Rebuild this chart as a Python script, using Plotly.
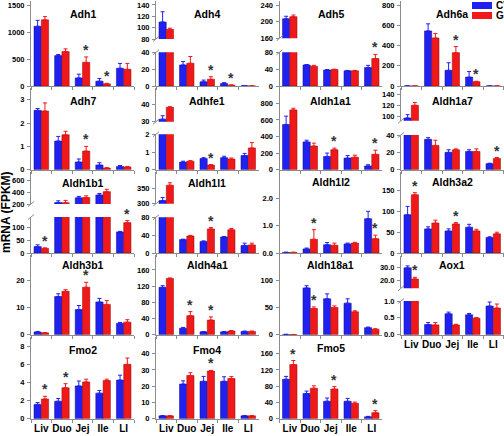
import plotly.graph_objects as go

W, H = 504, 436
CATS = ['Liv', 'Duo', 'Jej', 'Ile', 'LI']
SERIES = ['CV', 'GF']

# ---------------- data (FPKM) ----------------
ADH1_CV = [1110, 565, 150, 90, 330]
ADH1_CV_ERR = [110, 20, 70, 50, 90]
ADH1_GF = [1230, 640, 440, 40, 310]
ADH1_GF_ERR = [60, 50, 100, 10, 110]
ADH1_SIG = ['Jej', 'Ile']

ADH4_CV = [110, 25, 5, 3, 0.2]
ADH4_CV_ERR = [18, 4, 2, 1, 0.1]
ADH4_GF = [97, 27, 8, 1, 0.1]
ADH4_GF_ERR = [2, 8, 3, 0.3, 0.1]
ADH4_SIG = ['Jej', 'Ile']

ADH5_CV = [207, 50, 38, 36, 44]
ADH5_CV_ERR = [6, 1, 1, 1, 5]
ADH5_GF = [212, 47, 39, 36, 65]
ADH5_GF_ERR = [4, 2, 1, 1, 10]
ADH5_SIG = ['LI']

ADH6A_CV = [0.5, 545, 155, 88, 0.5]
ADH6A_CV_ERR = [0, 70, 75, 55, 0]
ADH6A_GF = [0.5, 475, 330, 42, 0.5]
ADH6A_GF_ERR = [0, 45, 60, 5, 0]
ADH6A_SIG = ['Jej', 'Ile']

ADH7_CV = [2.55, 1.23, 0.33, 0.2, 0.14]
ADH7_CV_ERR = [0.08, 0.2, 0.13, 0.1, 0.04]
ADH7_GF = [2.52, 1.5, 0.8, 0.07, 0.12]
ADH7_GF_ERR = [0.35, 0.15, 0.2, 0.02, 0.02]
ADH7_SIG = ['Jej']

ADHFE1_CV = [31.5, 0.43, 0.63, 0.68, 0.8]
ADHFE1_CV_ERR = [2, 0.05, 0.05, 0.08, 0.12]
ADHFE1_GF = [38.5, 0.48, 0.26, 0.6, 1.23]
ADHFE1_GF_ERR = [0.3, 0.03, 0.03, 0.06, 0.3]
ADHFE1_SIG = ['Jej']

ALDH1A1_CV = [545, 335, 160, 140, 45]
ALDH1A1_CV_ERR = [100, 20, 40, 30, 15]
ALDH1A1_GF = [720, 285, 240, 150, 185]
ALDH1A1_GF_ERR = [20, 35, 20, 25, 50]
ALDH1A1_SIG = ['Jej', 'LI']

ALDH1A7_CV = [97, 35, 20, 21, 7]
ALDH1A7_CV_ERR = [6, 2, 3, 2, 0.5]
ALDH1A7_GF = [120, 28, 23, 21, 13]
ALDH1A7_GF_ERR = [5, 6, 1, 3, 1]
ALDH1A7_SIG = ['LI']

ALDH1B1_CV = [25, 225, 305, 355, 82]
ALDH1B1_CV_ERR = [7, 30, 25, 25, 2]
ALDH1B1_GF = [18, 222, 310, 412, 118]
ALDH1B1_GF_ERR = [2, 40, 30, 40, 8]
ALDH1B1_SIG = ['Liv', 'LI']

ALDH1L1_CV = [310, 30, 26, 36, 17]
ALDH1L1_CV_ERR = [10, 1, 1, 1, 5]
ALDH1L1_GF = [360, 38, 54, 52, 18]
ALDH1L1_GF_ERR = [8, 1.5, 3, 3, 4]
ALDH1L1_SIG = ['Jej']

ALDH1L2_CV = [0.02, 0.15, 0.3, 0.33, 1.25]
ALDH1L2_CV_ERR = [0.01, 0.03, 0.08, 0.03, 0.27]
ALDH1L2_GF = [0.02, 0.5, 0.28, 0.36, 0.52]
ALDH1L2_GF_ERR = [0.01, 0.35, 0.08, 0.03, 0.13]
ALDH1L2_SIG = ['Duo', 'LI']

ALDH3A2_CV = [92, 58, 53, 62, 37]
ALDH3A2_CV_ERR = [20, 5, 5, 7, 2]
ALDH3A2_GF = [140, 72, 70, 53, 46]
ALDH3A2_GF_ERR = [5, 7, 3, 4, 4]
ALDH3A2_SIG = ['Liv', 'Jej']

ALDH3B1_CV = [1.0, 14.0, 9.2, 12.0, 4.2]
ALDH3B1_CV_ERR = [0.2, 1.0, 1.5, 1.3, 0.3]
ALDH3B1_GF = [0.7, 15.9, 17.4, 11.1, 4.6]
ALDH3B1_GF_ERR = [0.1, 0.6, 1.8, 1.4, 0.9]
ALDH3B1_SIG = ['Jej']

ALDH4A1_CV = [117, 16, 7, 7, 8]
ALDH4A1_CV_ERR = [4, 2, 1, 1, 1]
ALDH4A1_GF = [139, 47, 36, 9, 8]
ALDH4A1_GF_ERR = [1, 10, 8, 1.5, 1]
ALDH4A1_SIG = ['Duo', 'Jej']

ALDH18A1_CV = [0.5, 86, 66, 58, 13]
ALDH18A1_CV_ERR = [0.2, 4, 9, 8, 1]
ALDH18A1_GF = [0.3, 48, 50, 42, 10]
ALDH18A1_GF_ERR = [0.1, 3, 3, 2, 1]
ALDH18A1_SIG = ['Duo']

AOX1_CV = [29.5, 0.3, 0.62, 0.59, 0.85]
AOX1_CV_ERR = [1.5, 0.06, 0.05, 0.04, 0.12]
AOX1_GF = [21, 0.29, 0.29, 0.49, 0.79]
AOX1_GF_ERR = [1.2, 0.07, 0.02, 0.02, 0.12]
AOX1_SIG = ['Liv']

FMO2_CV = [1.6, 1.95, 3.65, 2.85, 4.3]
FMO2_CV_ERR = [0.2, 0.3, 0.55, 0.3, 0.55]
FMO2_GF = [2.2, 3.45, 4.1, 4.25, 6.05]
FMO2_GF_ERR = [0.3, 0.45, 0.3, 0.15, 0.7]
FMO2_SIG = ['Liv', 'Duo']

FMO4_CV = [1.8, 21.3, 23.0, 23.0, 1.8]
FMO4_CV_ERR = [0.2, 2.0, 3.0, 2.8, 0.2]
FMO4_GF = [1.8, 26.6, 29.3, 24.7, 1.8]
FMO4_GF_ERR = [0.1, 1.7, 0.4, 1.2, 0.1]
FMO4_SIG = ['Jej']

FMO5_CV = [97, 62, 43, 43, 5]
FMO5_CV_ERR = [7, 6, 8, 7, 1]
FMO5_GF = [133, 75, 73, 38, 15]
FMO5_GF_ERR = [10, 6, 6, 3, 5]
FMO5_SIG = ['Liv', 'Jej', 'LI']

# ---------------- layout (pixel geometry) ----------------
CV_COLOR = '#2020f0'
GF_COLOR = '#f01818'
CV_EDGE = '#10108a'
GF_EDGE = '#8a1010'
AXC = '#8c8c8c'
FONT = 'Liberation Sans, Arial, sans-serif'

COL_X = {1: (31, 134), 2: (156, 258.5), 3: (279.5, 382), 4: (401, 503.5)}

# each panel: title, data, column, lower=(top_px, bot_px, rmin, rmax, ticks),
# upper (optional), tick format, show category labels, title y px
PANELS = [
    dict(t='Adh1', d=(ADH1_CV, ADH1_CV_ERR, ADH1_GF, ADH1_GF_ERR, ADH1_SIG), c=1,
         lo=(1, 86, 0, 1580, [0, 500, 1000, 1500]), ty=14),
    dict(t='Adh4', d=(ADH4_CV, ADH4_CV_ERR, ADH4_GF, ADH4_GF_ERR, ADH4_SIG), c=2,
         lo=(52.3, 86, 0, 40, [0, 20, 40]), up=(1, 39, 80, 147, [80, 100, 120, 140]), ty=14),
    dict(t='Adh5', d=(ADH5_CV, ADH5_CV_ERR, ADH5_GF, ADH5_GF_ERR, ADH5_SIG), c=3,
         lo=(52.3, 86, 0, 80, [0, 40, 80]), up=(1, 38.3, 160, 249.7, [160, 200, 240]), ty=14),
    dict(t='Adh6a', d=(ADH6A_CV, ADH6A_CV_ERR, ADH6A_GF, ADH6A_GF_ERR, ADH6A_SIG), c=4,
         lo=(1, 86, 0, 841, [0, 200, 400, 600, 800]), ty=14),

    dict(t='Adh7', d=(ADH7_CV, ADH7_CV_ERR, ADH7_GF, ADH7_GF_ERR, ADH7_SIG), c=1,
         lo=(88, 169.7, 0, 3.51, [0, 1, 2, 3]), ty=101),
    dict(t='Adhfe1', d=(ADHFE1_CV, ADHFE1_CV_ERR, ADHFE1_GF, ADHFE1_GF_ERR, ADHFE1_SIG), c=2,
         lo=(134.3, 169.7, 0, 2, [0, 1, 2]), up=(88, 121.7, 30, 49.8, [30, 40]), ty=101),
    dict(t='Aldh1a1', d=(ALDH1A1_CV, ALDH1A1_CV_ERR, ALDH1A1_GF, ALDH1A1_GF_ERR, ALDH1A1_SIG), c=3,
         lo=(88, 169.7, 0, 984, [0, 200, 400, 600, 800]), ty=101),
    dict(t='Aldh1a7', d=(ALDH1A7_CV, ALDH1A7_CV_ERR, ALDH1A7_GF, ALDH1A7_GF_ERR, ALDH1A7_SIG), c=4,
         lo=(135, 169.7, 0, 40, [0, 20, 40]), up=(88, 120.7, 92, 151.5, [100, 120, 140]), ty=101),

    dict(t='Aldh1b1', d=(ALDH1B1_CV, ALDH1B1_CV_ERR, ALDH1B1_GF, ALDH1B1_GF_ERR, ALDH1B1_SIG), c=1,
         lo=(217, 253, 0, 140, [0, 50, 100]), up=(171.5, 204, 200, 757, [200, 400, 600]), ty=183),
    dict(t='Aldh1l1', d=(ALDH1L1_CV, ALDH1L1_CV_ERR, ALDH1L1_GF, ALDH1L1_GF_ERR, ALDH1L1_SIG), c=2,
         lo=(217.3, 253, 0, 80, [0, 40, 80]), up=(171.5, 203.7, 300, 404.5, [300, 350]), ty=183),
    dict(t='Aldh1l2', d=(ALDH1L2_CV, ALDH1L2_CV_ERR, ALDH1L2_GF, ALDH1L2_GF_ERR, ALDH1L2_SIG), c=3,
         lo=(171.5, 253, 0, 2.97, [0, 1, 2]), fmt='.1f', ty=182),
    dict(t='Aldh3a2', d=(ALDH3A2_CV, ALDH3A2_CV_ERR, ALDH3A2_GF, ALDH3A2_GF_ERR, ALDH3A2_SIG), c=4,
         lo=(171.5, 253, 0, 196, [0, 50, 100, 150]), ty=182),

    dict(t='Aldh3b1', d=(ALDH3B1_CV, ALDH3B1_CV_ERR, ALDH3B1_GF, ALDH3B1_GF_ERR, ALDH3B1_SIG), c=1,
         lo=(254.5, 334.7, 0, 29.4, [0, 10, 20]), ty=265),
    dict(t='Aldh4a1', d=(ALDH4A1_CV, ALDH4A1_CV_ERR, ALDH4A1_GF, ALDH4A1_GF_ERR, ALDH4A1_SIG), c=2,
         lo=(254.5, 334.7, 0, 198, [0, 40, 80, 120, 160]), ty=265),
    dict(t='Aldh18a1', d=(ALDH18A1_CV, ALDH18A1_CV_ERR, ALDH18A1_GF, ALDH18A1_GF_ERR, ALDH18A1_SIG), c=3,
         lo=(254.5, 334.7, 0, 147.4, [0, 50, 100]), ty=265),
    dict(t='Aox1', d=(AOX1_CV, AOX1_CV_ERR, AOX1_GF, AOX1_GF_ERR, AOX1_SIG), c=4,
         lo=(301, 334.7, 0, 1, [0, 0.5, 1]), up=(256, 288.3, 13.8, 38.6, [20, 30]), fmt='.1f',
         showx=True, ty=265),

    dict(t='Fmo2', d=(FMO2_CV, FMO2_CV_ERR, FMO2_GF, FMO2_GF_ERR, FMO2_SIG), c=1,
         lo=(337, 418.8, 0, 9.09, [0, 2, 4, 6, 8]), showx=True, ty=350),
    dict(t='Fmo4', d=(FMO4_CV, FMO4_CV_ERR, FMO4_GF, FMO4_GF_ERR, FMO4_SIG), c=2,
         lo=(337, 418.8, 0, 50.2, [0, 10, 20, 30, 40]), showx=True, ty=350),
    dict(t='Fmo5', d=(FMO5_CV, FMO5_CV_ERR, FMO5_GF, FMO5_GF_ERR, FMO5_SIG), c=3,
         lo=(337, 418.8, 0, 200.7, [0, 40, 80, 120, 160]), showx=True, ty=348),
]


def px_x(v):
    return v / W


def px_y(v):
    return 1 - v / H


def axkey(kind, n):
    return f'{kind}axis' if n == 1 else f'{kind}axis{n}'


def axref(kind, n):
    return kind if n == 1 else f'{kind}{n}'


fig = go.Figure()
layout = {}
annotations = []
shapes = []
nx = 0
ny = 0
tickfont = dict(family=FONT, size=7.5, color='black', weight='bold')

for p in PANELS:
    cv, cve, gf, gfe, sig = p['d']
    x0, x1 = COL_X[p['c']]
    nx += 1
    xr = axref('x', nx)
    fmt = p.get('fmt', '')
    ylist = []
    for part in ('lo', 'up'):
        if part not in p:
            continue
        top, bot, r0, r1, ticks = p[part]
        ny += 1
        ylist.append((part, ny, p[part]))
        layout[axkey('y', ny)] = dict(
            domain=[px_y(bot), px_y(top)], anchor=xr, range=[r0, r1],
            tickvals=ticks, tickformat=fmt, showline=True, linecolor=AXC, linewidth=1,
            ticks='outside', ticklen=3, tickcolor=AXC, tickwidth=1, showgrid=False,
            zeroline=False, tickfont=tickfont, ticklabelstandoff=1, automargin=False)
    lo_ny = ylist[0][1]
    layout[axkey('x', nx)] = dict(
        domain=[px_x(x0), px_x(x1)], anchor=axref('y', lo_ny), type='category',
        categoryorder='array', categoryarray=CATS, range=[-0.5, 4.5],
        showline=True, linecolor=AXC, linewidth=1, ticks='outside', tickson='boundaries',
        ticklen=3, tickcolor=AXC, showgrid=False, zeroline=False,
        showticklabels=p.get('showx', False), tickangle=0, automargin=False,
        tickfont=dict(family=FONT, size=10, color='black', weight='bold'))

    for part, n, spec in ylist:
        yr = axref('y', n)
        for name, vals, errs, col, edge in (('CV', cv, cve, CV_COLOR, CV_EDGE),
                                             ('GF', gf, gfe, GF_COLOR, GF_EDGE)):
            fig.add_trace(go.Bar(
                x=CATS, y=vals, name=name, xaxis=xr, yaxis=yr, showlegend=False,
                offsetgroup=name, hoverinfo='skip',
                marker=dict(color=col, line=dict(color=edge, width=0.5)),
                error_y=dict(type='data', array=errs, arrayminus=[0] * len(errs),
                             symmetric=False, color=col, thickness=1, width=2)))

    # significance stars, above the GF bar
    for cat in sig:
        i = CATS.index(cat)
        topv = gf[i] + gfe[i]
        target = ylist[0]
        if len(ylist) > 1 and topv >= ylist[1][2][2]:
            target = ylist[1]
        annotations.append(dict(
            x=cat, y=topv, xref=xr, yref=axref('y', target[1]), text='*',
            showarrow=False, xshift=3.6, yshift=7, yanchor='middle',
            font=dict(family=FONT, size=14, color='#333333', weight='bold')))

    # title
    annotations.append(dict(
        x=px_x((x0 + x1) / 2), y=px_y(p['ty']), xref='paper', yref='paper',
        text=p['t'], showarrow=False, xanchor='center', yanchor='middle',
        font=dict(family=FONT, size=10.5, color='black', weight='bold')))

    # axis break marks
    if len(ylist) > 1:
        for yb in (ylist[1][2][1], ylist[0][2][0]):
            shapes.append(dict(type='line', xref='paper', yref='paper',
                               x0=px_x(x0 - 3), x1=px_x(x0 + 3),
                               y0=px_y(yb + 2.5), y1=px_y(yb - 2.5),
                               line=dict(color=AXC, width=1)))

# y-axis label
annotations.append(dict(
    x=px_x(6), y=px_y(212), xref='paper', yref='paper', text='mRNA (FPKM)',
    textangle=-90, showarrow=False, xanchor='center', yanchor='middle',
    font=dict(family=FONT, size=12, color='black', weight='bold')))

# legend (manual, clipped at the right edge like the reference)
for k, (name, col, yc) in enumerate((('CV', CV_COLOR, 5.5), ('GF', GF_COLOR, 15.5))):
    shapes.append(dict(type='rect', xref='paper', yref='paper',
                       x0=px_x(472), x1=px_x(492), y0=px_y(yc + 3.5), y1=px_y(yc - 3.5),
                       fillcolor=col, line=dict(width=0)))
    annotations.append(dict(
        x=px_x(494), y=px_y(yc), xref='paper', yref='paper', text=name,
        showarrow=False, xanchor='left', yanchor='middle',
        font=dict(family=FONT, size=10, color='black', weight='bold')))

fig.update_layout(**layout)
fig.update_layout(
    width=W, height=H, margin=dict(l=0, r=0, t=0, b=0, autoexpand=False),
    paper_bgcolor='white', plot_bgcolor='white',
    barmode='group', bargap=0.29, bargroupgap=0, hovermode=False,
    annotations=annotations, shapes=shapes, showlegend=False)

fig.write_html('out.html', config={'displayModeBar': False},
               post_script="document.body.style.margin='0px';"
                           "document.body.style.overflow='hidden';")
